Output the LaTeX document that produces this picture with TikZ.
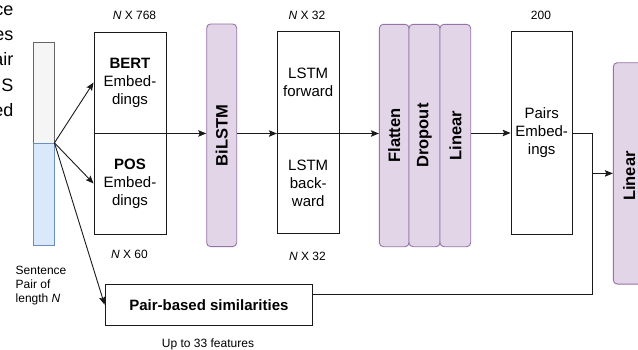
\documentclass[tikz,border=0pt]{standalone}
\usepackage{fontspec}
\setmainfont{Liberation Sans}
\usetikzlibrary{arrows.meta,calc}
\definecolor{purpfill}{HTML}{E1D5E7}
\definecolor{purpline}{HTML}{9673A6}
\definecolor{greyfill}{HTML}{F5F5F5}
\definecolor{greyline}{HTML}{666666}
\definecolor{bluefill}{HTML}{DAE8FC}
\definecolor{blueline}{HTML}{6C8EBF}
\definecolor{ink}{HTML}{1A1A1A}
\tikzset{
  box/.style={draw=ink, line width=0.9pt, fill=white, inner sep=0pt, align=center,
    font=\fontsize{15}{18}\selectfont},
  purp/.style={draw=purpline, line width=0.9pt, fill=purpfill, rounded corners=4pt, inner sep=0pt},
  rotlab/.style={rotate=90, font=\fontsize{16.5}{18}\selectfont\bfseries, inner sep=0pt},
  lab/.style={font=\fontsize{12}{14.3}\selectfont, inner sep=0pt},
  cut/.style={font=\fontsize{18}{25}\selectfont, inner sep=0pt, anchor=base east},
  conn/.style={draw=ink, line width=0.9pt},
  arr/.style={conn, -{Stealth[length=8pt,width=6.5pt,inset=1.5pt]}}
}
\begin{document}
\begin{tikzpicture}[x=1pt,y=-1pt]
\useasboundingbox (0,0) rectangle (638,349);

% text cut off at the left edge
\node[cut] (t1) at (13.5,15) {ce};
\node[cut] (t2) at (13.5,40) {es};
\node[cut] (t3) at (13.5,65) {air};
\node[cut] (t4) at (13.5,91) {S};
\node[cut] (t5) at (13.5,116) {ed};

% input bar
\node[draw=greyline, fill=greyfill, line width=0.9pt, minimum width=20.5pt, minimum height=100.8pt, inner sep=0pt] (bartop) at (43.75,92.9) {};
\node[draw=blueline, fill=bluefill, line width=0.9pt, minimum width=20.5pt, minimum height=101.7pt, inner sep=0pt] (barbot) at (43.75,194.15) {};
\coordinate (split) at (barbot.north east);

% embeddings
\node[box, minimum width=72pt, minimum height=101pt] (bert) at (130,82.5) {\textbf{BERT}\\Embed-\\dings};
\node[box, minimum width=72pt, minimum height=101pt] (pos) at (130,183.5) {\textbf{POS}\\Embed-\\dings};

% BiLSTM
\node[purp, minimum width=30pt, minimum height=222.7pt] (bilstm) at (221.7,135.3) {};
\node[rotlab] (bilstmT) at (bilstm.center) {BiLSTM};

% LSTM
\node[box, minimum width=61.7pt, minimum height=101.3pt] (lstmf) at (308.2,82.4) {LSTM\\forward};
\node[box, minimum width=61.7pt, minimum height=100.5pt] (lstmb) at (308.2,183.3) {LSTM\\back-\\ward};

% Flatten / Dropout / Linear
\node[purp, minimum width=29.7pt, minimum height=222.4pt] (flatten) at (394.2,135.5) {};
\node[purp, minimum width=31pt, minimum height=222.4pt] (dropout) at (424.5,135.5) {};
\node[purp, minimum width=30.7pt, minimum height=222.4pt] (linear) at (455.35,135.5) {};
\node[rotlab] (flattenT) at (flatten.center) {Flatten};
\node[rotlab] (dropoutT) at (dropout.center) {Dropout};
\node[rotlab] (linearT) at (linear.center) {Linear};

% Pairs embeddings
\node[box, minimum width=61.3pt, minimum height=202.6pt] (pairs) at (541.7,133) {Pairs\\Embed-\\ings};

% final linear
\node[purp, minimum width=32pt, minimum height=221.3pt] (linear2) at (629.3,173.4) {};
\node[rotlab] (linear2T) at (629.3,176) {Linear};

% pair-based similarities
\node[box, minimum width=207.7pt, minimum height=40.7pt, font=\fontsize{15}{18}\selectfont\bfseries] (pbs) at (208.9,304.7) {Pair-based similarities};

% labels
\node[lab] (l768) at (134.5,15) {\textit{N} X 768};
\node[lab] (l32a) at (307,15) {\textit{N} X 32};
\node[lab] (l200) at (541,15) {200};
\node[lab] (l60) at (129.5,254) {\textit{N} X 60};
\node[lab] (l32b) at (307.5,256.5) {\textit{N} X 32};
\node[lab] (lup) at (208,344) {Up to 33 features};
\node[lab, align=left, anchor=west] (lsent) at (15.5,285.5) {Sentence\\Pair of\\length \textit{N}};

% connectors
\draw[arr] (split) -- (bert.west);
\draw[arr] (split) -- (pos.west);
\draw[arr] (split) -- (pbs.west);
\draw[arr] (bert.south west) -- (bert.south west -| bilstm.west);
\draw[arr] (bilstm.east |- lstmf.south west) -- (lstmf.south west);
\draw[arr] (lstmf.south west) -- (lstmf.south west -| flatten.west);
\draw[arr] (linear.east |- pairs.west) -- (pairs.west);
\coordinate (jt) at (592.7,133);
\coordinate (jb) at (592.7,294.7);
\draw[conn] (pairs.east) -- (jt) -- (jb) -- (jb -| pbs.east);
\draw[arr] (jt |- linear2.west) -- (linear2.west);
\end{tikzpicture}
\end{document}
